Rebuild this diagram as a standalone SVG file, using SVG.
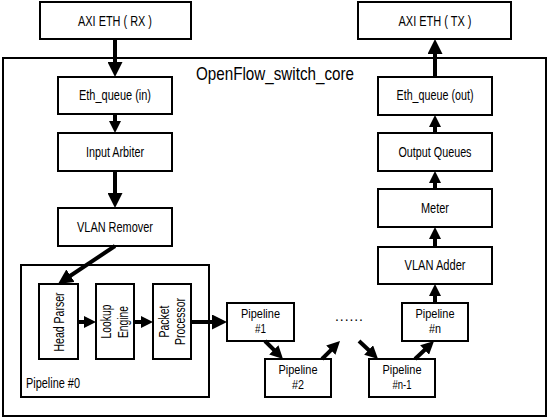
<svg xmlns="http://www.w3.org/2000/svg" width="550" height="418" viewBox="0 0 550 418">
<style>
rect{fill:#fff;stroke:#000;stroke-width:2}
text{font-family:"Liberation Sans",Arial,sans-serif;font-size:14px;fill:#000;text-anchor:middle}
.p{font-size:13px}
.a{fill:none;stroke:#000;stroke-width:4}
.big{marker-end:url(#hb)}
.sm{marker-end:url(#hs)}
.md{marker-end:url(#hm)}
</style>
<defs>
<marker id="hb" markerUnits="userSpaceOnUse" markerWidth="15" markerHeight="15" viewBox="0 0 15 15" refX="6" refY="7.5" orient="auto"><path d="M0,0 L15,7.5 L0,15 z" fill="#000"/></marker>
<marker id="hm" markerUnits="userSpaceOnUse" markerWidth="13" markerHeight="13" viewBox="0 0 13 13" refX="5.5" refY="6.5" orient="auto"><path d="M0,0 L13,6.5 L0,13 z" fill="#000"/></marker>
<marker id="hs" markerUnits="userSpaceOnUse" markerWidth="12" markerHeight="12" viewBox="0 0 12 12" refX="5" refY="6" orient="auto"><path d="M0,0 L12,6 L0,12 z" fill="#000"/></marker>
</defs>

<g id="core"><rect x="3" y="58" width="543" height="358"/><text x="275" y="80" style="font-size:19px" textLength="158" lengthAdjust="spacingAndGlyphs">OpenFlow_switch_core</text></g>

<g id="axi_rx"><rect x="40" y="2" width="151" height="37"/><text x="115" y="26" textLength="74" lengthAdjust="spacingAndGlyphs">AXI ETH ( RX )</text></g>
<g id="axi_tx"><rect x="358" y="2" width="153" height="37"/><text x="435" y="26" textLength="73" lengthAdjust="spacingAndGlyphs">AXI ETH ( TX )</text></g>
<g id="eth_in"><rect x="58" y="77" width="114" height="37"/><text x="115" y="100" textLength="72" lengthAdjust="spacingAndGlyphs">Eth_queue (in)</text></g>
<g id="input_arbiter"><rect x="58" y="133" width="114" height="38"/><text x="115" y="157" textLength="58" lengthAdjust="spacingAndGlyphs">Input Arbiter</text></g>
<g id="vlan_remover"><rect x="58" y="208" width="114" height="38"/><text x="115" y="232" textLength="76" lengthAdjust="spacingAndGlyphs">VLAN Remover</text></g>

<g id="pipeline0"><rect x="21" y="265" width="188" height="132"/><text x="26" y="388" style="text-anchor:start" textLength="54" lengthAdjust="spacingAndGlyphs">Pipeline #0</text></g>
<g id="head_parser"><rect x="39" y="284" width="39" height="75"/><text transform="translate(63.5,322) rotate(-90)" textLength="59" lengthAdjust="spacingAndGlyphs">Head Parser</text></g>
<g id="lookup_engine"><rect x="96" y="284" width="38" height="75"/><text transform="translate(111,321.5) rotate(-90)" textLength="34" lengthAdjust="spacingAndGlyphs">Lookup</text><text transform="translate(127.5,322) rotate(-90)" textLength="32" lengthAdjust="spacingAndGlyphs">Engine</text></g>
<g id="packet_processor"><rect x="153" y="284" width="38" height="75"/><text transform="translate(168.5,321.5) rotate(-90)" textLength="32" lengthAdjust="spacingAndGlyphs">Packet</text><text transform="translate(185,321.5) rotate(-90)" textLength="47" lengthAdjust="spacingAndGlyphs">Processor</text></g>

<g id="pipeline1"><rect x="227" y="303" width="67" height="38"/><text class="p" x="260.5" y="318" textLength="39" lengthAdjust="spacingAndGlyphs">Pipeline</text><text class="p" x="260.5" y="333" textLength="11" lengthAdjust="spacingAndGlyphs">#1</text></g>
<g id="pipeline2"><rect x="265" y="359" width="66" height="38"/><text class="p" x="298" y="374" textLength="39" lengthAdjust="spacingAndGlyphs">Pipeline</text><text class="p" x="298" y="389" textLength="12" lengthAdjust="spacingAndGlyphs">#2</text></g>
<g id="dots"><text x="349" y="321" textLength="28" lengthAdjust="spacing">......</text></g>
<g id="pipeline_n1"><rect x="369" y="359" width="66" height="38"/><text class="p" x="402" y="374" textLength="39" lengthAdjust="spacingAndGlyphs">Pipeline</text><text class="p" x="402" y="389" textLength="19" lengthAdjust="spacingAndGlyphs">#n-1</text></g>
<g id="pipeline_n"><rect x="402" y="303" width="66" height="38"/><text class="p" x="435" y="318" textLength="39" lengthAdjust="spacingAndGlyphs">Pipeline</text><text class="p" x="435" y="333" textLength="12" lengthAdjust="spacingAndGlyphs">#n</text></g>

<g id="vlan_adder"><rect x="378" y="247" width="114" height="37"/><text x="435" y="270" textLength="61" lengthAdjust="spacingAndGlyphs">VLAN Adder</text></g>
<g id="meter"><rect x="378" y="189" width="114" height="38"/><text x="435" y="213" textLength="28" lengthAdjust="spacingAndGlyphs">Meter</text></g>
<g id="output_queues"><rect x="378" y="133" width="114" height="38"/><text x="435" y="157" textLength="73" lengthAdjust="spacingAndGlyphs">Output Queues</text></g>
<g id="eth_out"><rect x="378" y="77" width="114" height="38"/><text x="435" y="100" textLength="77" lengthAdjust="spacingAndGlyphs">Eth_queue (out)</text></g>

<g id="connectors">
<line class="a big" x1="115" y1="39" x2="115" y2="68"/>
<line class="a sm" x1="115" y1="114" x2="115" y2="126"/>
<line class="a big" x1="115" y1="171" x2="115" y2="199"/>
<line class="a big" x1="115" y1="246" x2="65.5" y2="279"/>
<line class="a sm" x1="78" y1="322" x2="89" y2="322"/>
<line class="a sm" x1="134" y1="322" x2="146" y2="322"/>
<line class="a big" x1="191" y1="322" x2="218" y2="322"/>
<line class="a md" x1="265" y1="341" x2="277.7" y2="353.7"/>
<line class="a md" x1="322" y1="359" x2="334.7" y2="346.3"/>
<line class="a md" x1="359" y1="341" x2="372.6" y2="353.8"/>
<line class="a md" x1="415" y1="359" x2="428.6" y2="346.2"/>
<line class="a sm" x1="435" y1="303" x2="435" y2="291"/>
<line class="a sm" x1="435" y1="247" x2="435" y2="234"/>
<line class="a sm" x1="435" y1="189" x2="435" y2="178"/>
<line class="a sm" x1="435" y1="133" x2="435" y2="122"/>
<line class="a big" x1="435" y1="77" x2="435" y2="48"/>
</g>
</svg>
